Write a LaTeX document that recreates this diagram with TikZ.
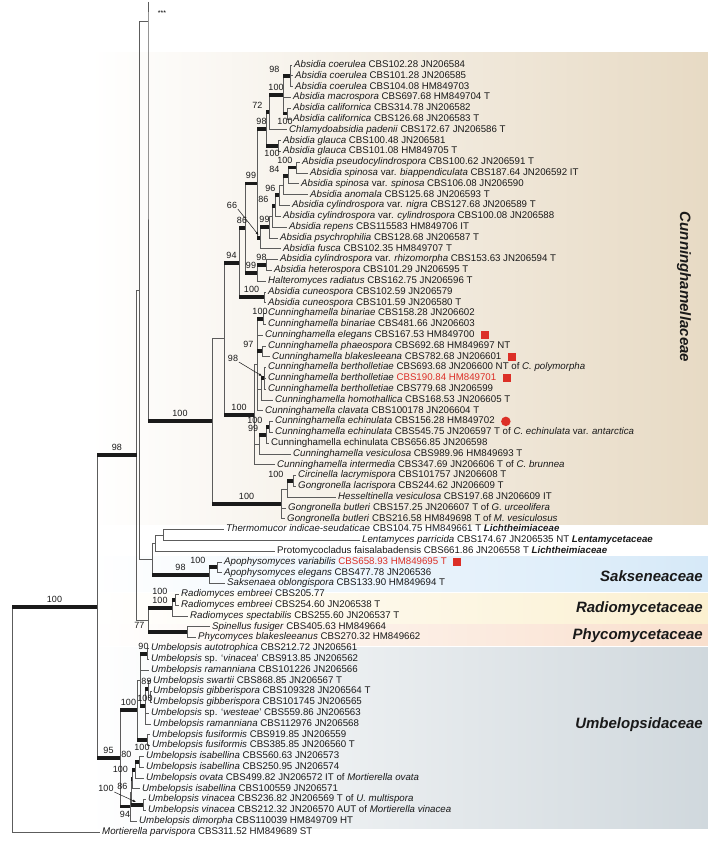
\documentclass[tikz,border=0pt]{standalone}
\usepackage{fontspec}
\setmainfont{Liberation Sans}
\usetikzlibrary{arrows.meta,positioning}
\definecolor{ink}    {HTML}{1A1A1A}
\definecolor{twig}   {HTML}{5C5C5C}
\definecolor{hilite} {HTML}{DC2F27}
\definecolor{cunnbg} {HTML}{E7DAC4}
\definecolor{saksbg} {HTML}{D6E9F8}
\definecolor{radibg} {HTML}{FBF0D0}
\definecolor{phycbg} {HTML}{F9DFCD}
\definecolor{umbebg} {HTML}{D0D8DD}
\newcommand{\rowy}[1]{65+10.8*#1}
\tikzset{
  taxon/.style  ={anchor=west, inner xsep=2pt, inner ysep=0pt, text height=7pt,
                  text depth=2pt, font=\fontsize{9.7}{11}\selectfont, text=ink},
  br/.style     ={draw=twig, line width=0.6pt},
  sup/.style    ={draw=ink, line width=3.8pt},
  bs/.style     ={font=\fontsize{9}{10}\selectfont, text=ink, inner sep=0.6pt},
  fam/.style    ={font=\fontsize{15}{17}\selectfont\bfseries\itshape, text=ink,
                  inner sep=0pt},
  redsq/.style  ={fill=hilite, minimum size=8pt, inner sep=0pt},
  reddot/.style ={circle, fill=hilite, minimum size=9.5pt, inner sep=0pt},
  ptr/.style    ={-{Latex[length=3.2pt,width=2.6pt]}, line width=0.5pt, draw=ink},
}

\begin{document}
\begin{tikzpicture}[x=1pt,y=-1pt]
  \useasboundingbox (0,0) rectangle (708,842);

  % family bands
  \shade[left color=white, right color=cunnbg] (90,53)  rectangle (708,524);
  \shade[left color=white, right color=saksbg] (90,556) rectangle (708,591);
  \shade[left color=white, right color=radibg] (90,593) rectangle (708,623);
  \shade[left color=white, right color=phycbg] (90,624) rectangle (708,645);
  \shade[left color=white, right color=umbebg] (90,647) rectangle (708,828);

  % taxa
  \node[taxon] (L0)  at (292,{\rowy{0}})  {\textit{Absidia coerulea} CBS102.28 JN206584};
  \node[taxon] (L1)  at (293,{\rowy{1}})  {\textit{Absidia coerulea} CBS101.28 JN206585};
  \node[taxon] (L2)  at (293,{\rowy{2}})  {\textit{Absidia coerulea} CBS104.08 HM849703};
  \node[taxon] (L3)  at (291,{\rowy{3}})  {\textit{Absidia macrospora} CBS697.68 HM849704 T};
  \node[taxon] (L4)  at (291,{\rowy{4}})  {\textit{Absidia californica} CBS314.78 JN206582};
  \node[taxon] (L5)  at (291,{\rowy{5}})  {\textit{Absidia californica} CBS126.68 JN206583 T};
  \node[taxon] (L6)  at (287,{\rowy{6}})  {\textit{Chlamydoabsidia padenii} CBS172.67 JN206586 T};
  \node[taxon] (L7)  at (281,{\rowy{7}})  {\textit{Absidia glauca} CBS100.48 JN206581};
  \node[taxon] (L8)  at (281,{\rowy{8}})  {\textit{Absidia glauca} CBS101.08 HM849705 T};
  \node[taxon] (L9)  at (300,{\rowy{9}})  {\textit{Absidia pseudocylindrospora} CBS100.62 JN206591 T};
  \node[taxon] (L10) at (308,{\rowy{10}}) {\textit{Absidia spinosa} var. \textit{biappendiculata} CBS187.64 JN206592 IT};
  \node[taxon] (L11) at (299,{\rowy{11}}) {\textit{Absidia spinosa} var. \textit{spinosa} CBS106.08 JN206590};
  \node[taxon] (L12) at (308,{\rowy{12}}) {\textit{Absidia anomala} CBS125.68 JN206593 T};
  \node[taxon] (L13) at (290,{\rowy{13}}) {\textit{Absidia cylindrospora} var. \textit{nigra} CBS127.68 JN206589 T};
  \node[taxon] (L14) at (281,{\rowy{14}}) {\textit{Absidia cylindrospora} var. \textit{cylindrospora} CBS100.08 JN206588};
  \node[taxon] (L15) at (287,{\rowy{15}}) {\textit{Absidia repens} CBS115583 HM849706 IT};
  \node[taxon] (L16) at (278,{\rowy{16}}) {\textit{Absidia psychrophilia} CBS128.68 JN206587 T};
  \node[taxon] (L17) at (281,{\rowy{17}}) {\textit{Absidia fusca} CBS102.35 HM849707 T};
  \node[taxon] (L18) at (278,{\rowy{18}}) {\textit{Absidia cylindrospora} var. \textit{rhizomorpha} CBS153.63 JN206594 T};
  \node[taxon] (L19) at (272,{\rowy{19}}) {\textit{Absidia heterospora} CBS101.29 JN206595 T};
  \node[taxon] (L20) at (266,{\rowy{20}}) {\textit{Halteromyces radiatus} CBS162.75 JN206596 T};
  \node[taxon] (L21) at (266,{\rowy{21}}) {\textit{Absidia cuneospora} CBS102.59 JN206579};
  \node[taxon] (L22) at (266,{\rowy{22}}) {\textit{Absidia cuneospora} CBS101.59 JN206580 T};
  \node[taxon] (L23) at (266,{\rowy{23}}) {\textit{Cunninghamella binariae} CBS158.28 JN206602};
  \node[taxon] (L24) at (266,{\rowy{24}}) {\textit{Cunninghamella binariae} CBS481.66 JN206603};
  \node[taxon] (L25) at (263,{\rowy{25}}) {\textit{Cunninghamella elegans} CBS167.53 HM849700};
  \node[taxon] (L26) at (266,{\rowy{26}}) {\textit{Cunninghamella phaeospora} CBS692.68 HM849697 NT};
  \node[taxon] (L27) at (270,{\rowy{27}}) {\textit{Cunninghamella blakesleeana} CBS782.68 JN206601};
  \node[taxon] (L28) at (266,{\rowy{28}}) {\textit{Cunninghamella bertholletiae} CBS693.68 JN206600 NT of \textit{C. polymorpha}};
  \node[taxon] (L29) at (266,{\rowy{29}}) {\textit{Cunninghamella bertholletiae} \textcolor{hilite}{CBS190.84 HM849701}};
  \node[taxon] (L30) at (266,{\rowy{30}}) {\textit{Cunninghamella bertholletiae} CBS779.68 JN206599};
  \node[taxon] (L31) at (273,{\rowy{31}}) {\textit{Cunninghamella homothallica} CBS168.53 JN206605 T};
  \node[taxon] (L32) at (263,{\rowy{32}}) {\textit{Cunninghamella clavata} CBS100178 JN206604 T};
  \node[taxon] (L33) at (273,{\rowy{33}}) {\textit{Cunninghamella echinulata} CBS156.28 HM849702};
  \node[taxon] (L34) at (273,{\rowy{34}}) {\textit{Cunninghamella echinulata} CBS545.75 JN206597 T of \textit{C. echinulata} var. \textit{antarctica}};
  \node[taxon] (L35) at (269,{\rowy{35}}) {Cunninghamella echinulata CBS656.85 JN206598};
  \node[taxon] (L36) at (291,{\rowy{36}}) {\textit{Cunninghamella vesiculosa} CBS989.96 HM849693 T};
  \node[taxon] (L37) at (275,{\rowy{37}}) {\textit{Cunninghamella intermedia} CBS347.69 JN206606 T of \textit{C. brunnea}};
  \node[taxon] (L38) at (296,{\rowy{38}}) {\textit{Circinella lacrymispora} CBS101757 JN206608 T};
  \node[taxon] (L39) at (296,{\rowy{39}}) {\textit{Gongronella lacrispora} CBS244.62 JN206609 T};
  \node[taxon] (L40) at (336,{\rowy{40}}) {\textit{Hesseltinella vesiculosa} CBS197.68 JN206609 IT};
  \node[taxon] (L41) at (286,{\rowy{41}}) {\textit{Gongronella butleri} CBS157.25 JN206607 T of \textit{G. urceolifera}};
  \node[taxon] (L42) at (285,{\rowy{42}}) {\textit{Gongronella butleri} CBS216.58 HM849698 T of \textit{M. vesiculosus}};
  \node[taxon] (L43) at (224,{\rowy{43}}) {\textit{Thermomucor indicae-seudaticae} CBS104.75 HM849661 T \textbf{\textit{Lichtheimiaceae}}};
  \node[taxon] (L44) at (360,{\rowy{44}}) {\textit{Lentamyces parricida} CBS174.67 JN206535 NT \textbf{\textit{Lentamycetaceae}}};
  \node[taxon] (L45) at (275,{\rowy{45}}) {Protomycocladus faisalabadensis CBS661.86 JN206558 T \textbf{\textit{Lichtheimiaceae}}};
  \node[taxon] (L46) at (222,{\rowy{46}}) {\textit{Apophysomyces variabilis} \textcolor{hilite}{CBS658.93 HM849695 T}};
  \node[taxon] (L47) at (222,{\rowy{47}}) {\textit{Apophysomyces elegans} CBS477.78 JN206536};
  \node[taxon] (L48) at (225,{\rowy{48}}) {\textit{Saksenaea oblongispora} CBS133.90 HM849694 T};
  \node[taxon] (L49) at (179,{\rowy{49}}) {\textit{Radiomyces embreei} CBS205.77};
  \node[taxon] (L50) at (179,{\rowy{50}}) {\textit{Radiomyces embreei} CBS254.60 JN206538 T};
  \node[taxon] (L51) at (188,{\rowy{51}}) {\textit{Radiomyces spectabilis} CBS255.60 JN206537 T};
  \node[taxon] (L52) at (210,{\rowy{52}}) {\textit{Spinellus fusiger} CBS405.63 HM849664};
  \node[taxon] (L53) at (196,{\rowy{53}}) {\textit{Phycomyces blakesleeanus} CBS270.32 HM849662};
  \node[taxon] (L54) at (149,{\rowy{54}}) {\textit{Umbelopsis autotrophica} CBS212.72 JN206561};
  \node[taxon] (L55) at (149,{\rowy{55}}) {\textit{Umbelopsis} sp. `\textit{vinacea}' CBS913.85 JN206562};
  \node[taxon] (L56) at (149,{\rowy{56}}) {\textit{Umbelopsis ramanniana} CBS101226 JN206566};
  \node[taxon] (L57) at (151,{\rowy{57}}) {\textit{Umbelopsis swartii} CBS868.85 JN206567 T};
  \node[taxon] (L58) at (151,{\rowy{58}}) {\textit{Umbelopsis gibberispora} CBS109328 JN206564 T};
  \node[taxon] (L59) at (151,{\rowy{59}}) {\textit{Umbelopsis gibberispora} CBS101745 JN206565};
  \node[taxon] (L60) at (149,{\rowy{60}}) {\textit{Umbelopsis} sp. `\textit{westeae}' CBS559.86 JN206563};
  \node[taxon] (L61) at (151,{\rowy{61}}) {\textit{Umbelopsis ramanniana} CBS112976 JN206568};
  \node[taxon] (L62) at (150,{\rowy{62}}) {\textit{Umbelopsis fusiformis} CBS919.85 JN206559};
  \node[taxon] (L63) at (150,{\rowy{63}}) {\textit{Umbelopsis fusiformis} CBS385.85 JN206560 T};
  \node[taxon] (L64) at (144,{\rowy{64}}) {\textit{Umbelopsis isabellina} CBS560.63 JN206573};
  \node[taxon] (L65) at (144,{\rowy{65}}) {\textit{Umbelopsis isabellina} CBS250.95 JN206574};
  \node[taxon] (L66) at (144,{\rowy{66}}) {\textit{Umbelopsis ovata} CBS499.82 JN206572 IT of \textit{Mortierella ovata}};
  \node[taxon] (L67) at (140,{\rowy{67}}) {\textit{Umbelopsis isabellina} CBS100559 JN206571};
  \node[taxon] (L68) at (146,{\rowy{68}}) {\textit{Umbelopsis vinacea} CBS236.82 JN206569 T of \textit{U. multispora}};
  \node[taxon] (L69) at (146,{\rowy{69}}) {\textit{Umbelopsis vinacea} CBS212.32 JN206570 AUT of \textit{Mortierella vinacea}};
  \node[taxon] (L70) at (137,{\rowy{70}}) {\textit{Umbelopsis dimorpha} CBS110039 HM849709 HT};
  \node[taxon] (L71) at (100,{\rowy{71}}) {\textit{Mortierella parvispora} CBS311.52 HM849689 ST};

  % markers
  \node[redsq,  right=4pt of L25] (m25) {};
  \node[redsq,  right=4pt of L27] (m27) {};
  \node[redsq,  right=4pt of L29] (m29) {};
  \node[reddot, right=4pt of L33] (m33) {};
  \node[redsq,  right=4pt of L46] (m46) {};

  % internal nodes
  \coordinate (coer) at (290,75.8);
  \coordinate (cali) at (287,113.6);
  \coordinate (macr) at (283,94.7);
  \coordinate (chla) at (269,112.25);
  \coordinate (glau) at (278,146);
  \coordinate (absD) at (266,129.1);
  \coordinate (pseu) at (296,167.6);
  \coordinate (spin) at (288,175.7);
  \coordinate (anom) at (283,185.15);
  \coordinate (nigr) at (279,195.3);
  \coordinate (cyli) at (275,205.75);
  \coordinate (repe) at (272,216.4);
  \coordinate (psyc) at (269,227.1);
  \coordinate (fusc) at (260,237.85);
  \coordinate (absE) at (257,183.5);
  \coordinate (rhiz) at (266,264.8);
  \coordinate (halt) at (257,272.9);
  \coordinate (absF) at (245,228.2);
  \coordinate (cune) at (264,297.2);
  \coordinate (absG) at (239,262.7);
  \coordinate (bina) at (263,318.8);
  \coordinate (phae) at (262,351.2);
  \coordinate (bert) at (264,378.2);
  \coordinate (homo) at (261,389);
  \coordinate (cunC) at (257,364.7);
  \coordinate (ech1) at (269,426.8);
  \coordinate (ech2) at (266,434.9);
  \coordinate (vesi) at (259,444.35);
  \coordinate (cunG) at (254,414.65);
  \coordinate (famA) at (224,338.7);
  \coordinate (circ) at (293,480.8);
  \coordinate (hess) at (287,488.9);
  \coordinate (gong) at (281,503.75);
  \coordinate (cunn) at (212,421.2);
  \coordinate (topD) at (148,21.7);
  \coordinate (Dtop) at (148,2);
  \coordinate (ther) at (163,534.8);
  \coordinate (prot) at (155,542.9);
  \coordinate (apop) at (217,567.2);
  \coordinate (saks) at (209,575.3);
  \coordinate (lich) at (152,559.1);
  \coordinate (topC) at (139.3,290.4);
  \coordinate (remb) at (175,599.6);
  \coordinate (radi) at (172,607.7);
  \coordinate (phyc) at (187,632);
  \coordinate (radP) at (148,619.85);
  \coordinate (mucB) at (136.7,455.1);
  \coordinate (uaut) at (147,653.6);
  \coordinate (ugib) at (150.5,696.8);
  \coordinate (uswg) at (148,688.7);
  \coordinate (uswa) at (145,706.25);
  \coordinate (uupp) at (140,679.9);
  \coordinate (ufus) at (147,740);
  \coordinate (uone) at (137,709.95);
  \coordinate (uisa) at (139,761.6);
  \coordinate (uova) at (135,769.7);
  \coordinate (uisb) at (132,779.15);
  \coordinate (uvin) at (143,804.8);
  \coordinate (uvnd) at (131,792);
  \coordinate (utwo) at (130,806.5);
  \coordinate (umbe) at (120,758.2);
  \coordinate (ingr) at (97,606.6);
  \coordinate (root) at (12,606.6);

  % branches
  \draw[br] (coer) |- (L0.west) (coer) |- (L1.west) (coer) |- (L2.west);
  \draw[br] (macr) |- (coer) (macr) |- (L3.west) (macr) |- (cali);
  \draw[br] (cali) |- (L4.west) (cali) |- (L5.west);
  \draw[br] (chla) |- (macr) (chla) |- (L6.west);
  \draw[br] (glau) |- (L7.west) (glau) |- (L8.west);
  \draw[br] (absD) |- (chla) (absD) |- (glau);
  \draw[br] (pseu) |- (L9.west) (pseu) |- (L10.west);
  \draw[br] (spin) |- (pseu) (spin) |- (L11.west);
  \draw[br] (anom) |- (spin) (anom) |- (L12.west);
  \draw[br] (nigr) |- (anom) (nigr) |- (L13.west);
  \draw[br] (cyli) |- (nigr) (cyli) |- (L14.west);
  \draw[br] (repe) |- (cyli) (repe) |- (L15.west);
  \draw[br] (psyc) |- (repe) (psyc) |- (L16.west);
  \draw[br] (fusc) |- (psyc) (fusc) |- (L17.west);
  \draw[br] (absE) |- (absD) (absE) |- (fusc);
  \draw[br] (rhiz) |- (L18.west) (rhiz) |- (L19.west);
  \draw[br] (halt) |- (rhiz) (halt) |- (L20.west);
  \draw[br] (absF) |- (absE) (absF) |- (halt);
  \draw[br] (cune) |- (L21.west) (cune) |- (L22.west);
  \draw[br] (absG) |- (absF) (absG) |- (cune);
  \draw[br] (bina) |- (L23.west) (bina) |- (L24.west);
  \draw[br] (phae) |- (L26.west) (phae) |- (L27.west);
  \draw[br] (bert) |- (L28.west) (bert) |- (L29.west) (bert) |- (L30.west);
  \draw[br] (homo) |- (bert) (homo) |- (L31.west);
  \draw[br] (cunC) |- (bina) (cunC) |- (L25.west) (cunC) |- (phae)
            (cunC) |- (homo) (cunC) |- (L32.west);
  \draw[br] (ech1) |- (L33.west) (ech1) |- (L34.west);
  \draw[br] (ech2) |- (ech1) (ech2) |- (L35.west);
  \draw[br] (vesi) |- (ech2) (vesi) |- (L36.west);
  \draw[br] (cunG) |- (cunC) (cunG) |- (vesi) (cunG) |- (L37.west);
  \draw[br] (famA) |- (absG) (famA) |- (cunG);
  \draw[br] (circ) |- (L38.west) (circ) |- (L39.west);
  \draw[br] (hess) |- (circ) (hess) |- (L40.west);
  \draw[br] (gong) |- (hess) (gong) |- (L41.west) (gong) |- (L42.west);
  \draw[br] (cunn) |- (famA) (cunn) |- (gong);
  \draw[br] (Dtop) -- (topD) |- (cunn);
  \draw[br] (ther) |- (L43.west) (ther) |- (L44.west);
  \draw[br] (prot) |- (ther) (prot) |- (L45.west);
  \draw[br] (apop) |- (L46.west) (apop) |- (L47.west);
  \draw[br] (saks) |- (apop) (saks) |- (L48.west);
  \draw[br] (lich) |- (prot) (lich) |- (saks);
  \draw[br] (topC) |- (topD) (topC) |- (lich);
  \draw[br] (remb) |- (L49.west) (remb) |- (L50.west);
  \draw[br] (radi) |- (remb) (radi) |- (L51.west);
  \draw[br] (phyc) |- (L52.west) (phyc) |- (L53.west);
  \draw[br] (radP) |- (radi) (radP) |- (phyc);
  \draw[br] (mucB) |- (topC) (mucB) |- (radP);
  \draw[br] (uaut) |- (L54.west) (uaut) |- (L55.west);
  \draw[br] (ugib) |- (L58.west) (ugib) |- (L59.west);
  \draw[br] (uswg) |- (L57.west) (uswg) |- (ugib);
  \draw[br] (uswa) |- (uswg) (uswa) |- (L60.west) (uswa) |- (L61.west);
  \draw[br] (uupp) |- (uaut) (uupp) |- (L56.west) (uupp) |- (uswa);
  \draw[br] (ufus) |- (L62.west) (ufus) |- (L63.west);
  \draw[br] (uone) |- (uupp) (uone) |- (ufus);
  \draw[br] (uisa) |- (L64.west) (uisa) |- (L65.west);
  \draw[br] (uova) |- (uisa) (uova) |- (L66.west);
  \draw[br] (uisb) |- (uova) (uisb) |- (L67.west);
  \draw[br] (uvin) |- (L68.west) (uvin) |- (L69.west);
  \draw[br] (uvnd) |- (uisb) (uvnd) |- (uvin);
  \draw[br] (utwo) |- (uvnd) (utwo) |- (L70.west);
  \draw[br] (umbe) |- (uone) (umbe) |- (utwo);
  \draw[br] (ingr) |- (mucB) (ingr) |- (umbe);
  \draw[br] (root) |- (ingr) (root) |- (L71.west);

  % supported branches
  \draw[sup] (macr|-coer) -- node[bs,pos=0,above left=1.5pt]{98} (coer);
  \draw[sup] (macr|-cali) -- node[bs,below=2pt]{100} (cali);
  \draw[sup] (chla|-macr) -- node[bs,above=2pt]{100} (macr);
  \draw[sup] (absD|-chla) -- node[bs,pos=0,above left=1.5pt]{72} (chla);
  \draw[sup] (absD|-glau) -- node[bs,below=2pt]{100} (glau);
  \draw[sup] (absE|-absD) -- node[bs,above=2pt]{98} (absD);
  \draw[sup] (spin|-pseu) -- node[bs,pos=1,above left=1.5pt]{100} (pseu);
  \draw[sup] (anom|-spin) -- node[bs,pos=0,above left=1.5pt]{84} (spin);
  \draw[sup] (cyli|-nigr) -- node[bs,pos=1,above left=1.5pt]{96} (nigr);
  \draw[sup] (repe|-cyli) -- node[bs,pos=0,above left=1.5pt]{86} (cyli);
  \draw[sup] (fusc|-psyc) -- node[bs,above=2pt]{99} (psyc);
  \draw[sup] (absE|-fusc) -- (fusc);
  \draw[sup] (absF|-absE) -- node[bs,above=2pt]{99} (absE);
  \draw[sup] (halt|-rhiz) -- node[bs,above=2pt]{98} (rhiz);
  \draw[sup] (absF|-halt) -- node[bs,above=2pt]{99} (halt);
  \draw[sup] (absG|-absF) -- node[bs,above=2pt]{86} (absF);
  \draw[sup] (absG|-cune) -- node[bs,above=2pt]{100} (cune);
  \draw[sup] (famA|-absG) -- node[bs,above=2pt]{94} (absG);
  \draw[sup] (cunC|-bina) -- node[bs,above=2pt]{100} (bina);
  \draw[sup] (cunC|-phae) -- node[bs,pos=0,above left=1.5pt]{97} (phae);
  \draw[sup] (homo|-bert) -- (bert);
  \draw[sup] (ech2|-ech1) -- node[bs,pos=0,above left=1.5pt]{100} (ech1);
  \draw[sup] (vesi|-ech2) -- node[bs,pos=0.4,above left=1.5pt]{99} (ech2);
  \draw[sup] (famA|-cunG) -- node[bs,above=2pt]{100} (cunG);
  \draw[sup] (hess|-circ) -- node[bs,pos=0,above left=1.5pt]{100} (circ);
  \draw[sup] (cunn|-gong) -- node[bs,above=2pt]{100} (gong);
  \draw[sup] (topD|-cunn) -- node[bs,above=2pt]{100} (cunn);
  \draw[sup] (saks|-apop) -- node[bs,pos=0,above left=1.5pt]{100} (apop);
  \draw[sup] (lich|-saks) -- node[bs,above=2pt]{98} (saks);
  \draw[sup] (radi|-remb) -- node[bs,pos=0,above left=3pt]{100} (remb);
  \draw[sup] (radP|-radi) -- node[bs,above=1.5pt]{100} (radi);
  \draw[sup] (radP|-phyc) -- node[bs,pos=0,above left=1.5pt]{77} (phyc);
  \draw[sup] (ingr|-mucB) -- node[bs,above=2pt]{98} (mucB);
  \draw[sup] (root|-ingr) -- node[bs,above=2pt]{100} (ingr);
  \draw[sup] (ingr|-umbe) -- node[bs,above=2pt]{95} (umbe);
  \draw[sup] (umbe|-uone) -- node[bs,above=2pt]{100} (uone);
  \draw[sup] (uone|-ufus) -- node[bs,below=2pt]{100} (ufus);
  \draw[sup] (umbe|-utwo) -- node[bs,below=2pt]{94} (utwo);
  \draw[sup] (uupp|-uaut) -- node[bs,above=2pt]{90} (uaut);
  \draw[sup] (uswa|-uswg) -- node[bs,above=2pt]{89} (uswg);
  \draw[sup] (uupp|-uswa) -- node[bs,pos=1,above=2pt]{100} (uswa);
  \draw[sup] (uova|-uisa) -- node[bs,pos=0,above left=1.5pt]{80} (uisa);
  \draw[sup] (uisb|-uova) -- node[bs,pos=0,left=1.5pt]{100} (uova);
  \draw[sup] (uvnd|-uisb) -- node[bs,pos=0,below left=1.5pt]{86} (uisb);
  \draw[sup] (uvnd|-uvin) -- (uvin);

  % remote support values
  \node[bs] (lab66) at (232,205) {66};
  \coordinate (tip66) at (258.5,235);
  \draw[ptr] (lab66.south east) -- (tip66);
  \node[bs] (lab98) at (233,358) {98};
  \coordinate (tip98) at (262,376);
  \draw[ptr] (lab98.south east) -- (tip98);
  \node[bs] (lab100) at (106,788) {100};
  \coordinate (tip100) at (136,802);
  \draw[ptr] (lab100.south east) -- (tip100);

  \node[font=\fontsize{7}{8}\selectfont] (stars) at (162,13) {***};

  % families
  \node[fam, rotate=-90] (fcun) at (684,287) {Cunninghamellaceae};
  \node[fam, anchor=east] (fsak) at (703,576) {Sakseneaceae};
  \node[fam, anchor=east] (frad) at (703,609) {Radiomycetaceae};
  \node[fam, anchor=east] (fphy) at (703,636) {Phycomycetaceae};
  \node[fam, anchor=east] (fumb) at (703,725) {Umbelopsidaceae};
\end{tikzpicture}
\end{document}
